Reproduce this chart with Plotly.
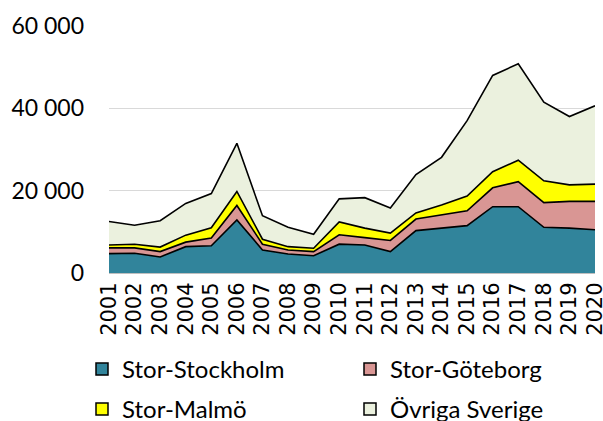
import plotly.graph_objects as go

years = list(range(2001, 2021))
stockholm = [4700, 4800, 3900, 6400, 6600, 12900, 5600, 4600, 4200, 7000,
             6800, 5200, 10300, 10900, 11500, 16100, 16100, 11100, 10900, 10500]
goteborg = [1400, 1300, 1300, 1100, 1900, 3500, 1400, 1000, 1000, 2300,
            1800, 2700, 2800, 3200, 3600, 4600, 6100, 6000, 6500, 6900]
malmo = [700, 900, 1100, 1700, 2500, 3400, 1200, 800, 800, 3100,
         2300, 1800, 1500, 2400, 3600, 3900, 5200, 5300, 4000, 4200]
ovriga = [5700, 4600, 6400, 7700, 8300, 11700, 5700, 4700, 3400, 5600,
          7400, 6100, 9300, 11600, 18300, 23400, 23400, 19100, 16600, 19000]

series = [
    ("Stor-Stockholm", stockholm, "#31849B"),
    ("Stor-Göteborg", goteborg, "#D99694"),
    ("Stor-Malmö", malmo, "#FFFF00"),
    ("Övriga Sverige", ovriga, "#EBF1DE"),
]
tickvals = [0, 20000, 40000, 60000]
ticktext = ["0", "20 000", "40 000", "60 000"]

# legend slots (pixel positions: left, top) in a 2x2 grid
legend_ids = ["legend", "legend2", "legend3", "legend4"]
legend_pos = [(82, 347), (350, 347), (82, 387), (350, 387)]

fig = go.Figure()
for name, vals, col in series:
    fig.add_trace(go.Scatter(
        x=years, y=vals, name=name, mode="lines", stackgroup="one",
        fillcolor=col, line=dict(color="black", width=1.6),
        legendgroup=name, showlegend=False,
    ))
# legend entries (square swatches like the original)
for (name, vals, col), lid in zip(series, legend_ids):
    fig.add_trace(go.Bar(
        x=[None], y=[None], name=name, legendgroup=name, legend=lid,
        marker=dict(color=col, line=dict(color="black", width=1.5)),
        showlegend=True,
    ))

W, H = 603, 421
layout_legends = {}
for lid, (px, py) in zip(legend_ids, legend_pos):
    layout_legends[lid] = dict(
        orientation="h", xref="container", yref="container",
        x=px / W, y=1 - py / H, xanchor="left", yanchor="top",
        font=dict(size=24), itemwidth=30, bgcolor="rgba(0,0,0,0)")

fig.update_layout(
    width=W, height=H,
    margin=dict(l=109, r=8, t=26, b=148, autoexpand=False),
    paper_bgcolor="white", plot_bgcolor="white",
    font=dict(family="Lato, Carlito, sans-serif", size=23, color="black"),
    showlegend=True,
    **layout_legends,
    xaxis=dict(range=[2001, 2020], tickmode="array", tickvals=years,
               ticktext=[str(y) for y in years], tickangle=-90,
               tickfont=dict(size=21, family="DejaVu Sans, sans-serif"),
               ticklabeloverflow="allow",
               showgrid=False, showline=True, linecolor="#BFBFBF", linewidth=1,
               ticks="", zeroline=False, fixedrange=True),
    yaxis=dict(range=[0, 60000], tickmode="array", tickvals=tickvals,
               ticktext=ticktext, showgrid=True, gridcolor="#D9D9D9",
               gridwidth=1.3, zeroline=False, ticks="", ticklabelstandoff=24,
               showline=False, fixedrange=True),
)

fig.write_html("out.html", config={"displayModeBar": False},
               post_script="document.body.style.margin='0';document.body.style.overflow='hidden';")
